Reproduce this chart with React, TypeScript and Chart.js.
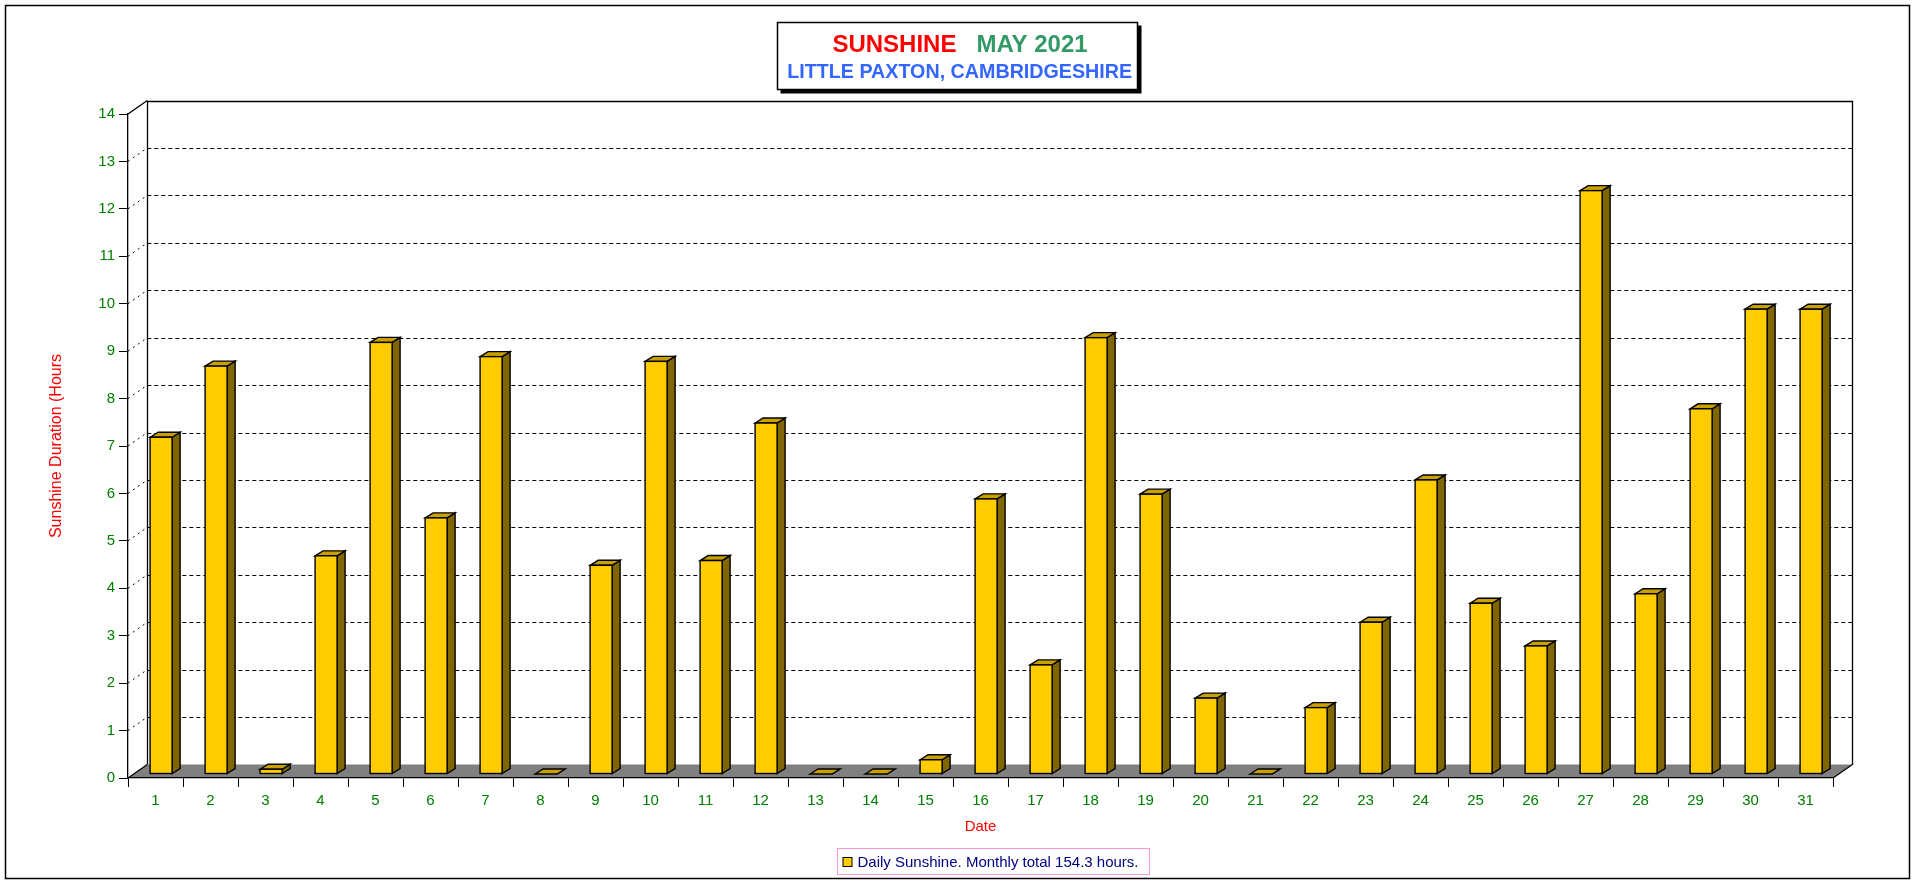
import React, { useEffect, useRef } from 'react';
import { Chart, registerables } from 'chart.js';

Chart.register(...registerables);

// ---------- data ----------
const dayLabels = [
  '1', '2', '3', '4', '5', '6', '7', '8', '9', '10',
  '11', '12', '13', '14', '15', '16', '17', '18', '19', '20',
  '21', '22', '23', '24', '25', '26', '27', '28', '29', '30', '31',
];
const sunshineHours = [
  7.1, 8.6, 0.1, 4.6, 9.1, 5.4, 8.8, 0, 4.4, 8.7,
  4.5, 7.4, 0, 0, 0.3, 5.8, 2.3, 9.2, 5.9, 1.6,
  0, 1.4, 3.2, 6.2, 3.6, 2.7, 12.3, 3.8, 7.7, 9.8, 9.8,
];
const yMin = 0;
const yMax = 14;
const yStep = 1;
const titleLine1a = 'SUNSHINE';
const titleLine1b = 'MAY 2021';
const titleLine2 = 'LITTLE PAXTON, CAMBRIDGESHIRE';
const seriesLabel = 'Daily Sunshine. Monthly total 154.3 hours.';
const xTitle = 'Date';
const yTitle = 'Sunshine Duration (Hours';

const FONT = "'Liberation Sans', Arial, sans-serif";

// 3D geometry (pixel offsets)
const WALL = { dx: 19.3, dy: -13.5 };
const FRONT = { dx: 5.6, dy: -4 };
const DEPTH = { dx: 8, dy: -5 };

const threeDPlugin = {
  id: 'threeD',
  beforeDraw(chart: any) {
    const ctx = chart.ctx as CanvasRenderingContext2D;
    const { left, right, top, bottom } = chart.chartArea;
    const yScale = chart.scales.y;
    ctx.save();
    // page background + outer frame
    ctx.fillStyle = '#ffffff';
    ctx.fillRect(0, 0, chart.width, chart.height);
    ctx.strokeStyle = '#000';
    ctx.lineWidth = 1.5;
    ctx.strokeRect(5.5, 5.5, 1904, 873);

    const wx0 = left + WALL.dx;
    const wx1 = right + WALL.dx;
    const wyTop = top + WALL.dy;
    const wyBot = bottom + WALL.dy;

    // floor
    ctx.fillStyle = '#808080';
    ctx.beginPath();
    ctx.moveTo(left, bottom);
    ctx.lineTo(wx0, wyBot);
    ctx.lineTo(wx1, wyBot);
    ctx.lineTo(right, bottom);
    ctx.closePath();
    ctx.fill();

    // gridlines on the back wall + dotted diagonals
    ctx.lineWidth = 1;
    ctx.strokeStyle = '#000';
    for (const t of yScale.ticks) {
      const v = t.value;
      const yf = yScale.getPixelForValue(v);
      if (v > yMin && v < yMax) {
        ctx.setLineDash([4, 3]);
        ctx.beginPath();
        ctx.moveTo(wx0, Math.round(yf + WALL.dy) + 0.5);
        ctx.lineTo(wx1, Math.round(yf + WALL.dy) + 0.5);
        ctx.stroke();
        ctx.setLineDash([2, 4]);
        ctx.beginPath();
        ctx.moveTo(left, yf);
        ctx.lineTo(wx0, yf + WALL.dy);
        ctx.stroke();
      }
    }
    ctx.setLineDash([]);
    // wall outline
    ctx.lineWidth = 1.3;
    ctx.beginPath();
    ctx.moveTo(Math.round(wx0) + 0.5, wyBot);
    ctx.lineTo(Math.round(wx0) + 0.5, Math.round(wyTop) + 0.5);
    ctx.lineTo(Math.round(wx1) + 0.5, Math.round(wyTop) + 0.5);
    ctx.lineTo(Math.round(wx1) + 0.5, wyBot);
    ctx.lineTo(right, bottom);
    ctx.stroke();
    ctx.beginPath();
    ctx.moveTo(left, top);
    ctx.lineTo(wx0, wyTop);
    ctx.moveTo(left, bottom);
    ctx.lineTo(wx0, wyBot);
    ctx.stroke();

    // title box
    const bx = 777.5, by = 22.5, bw = 360, bh = 67;
    ctx.fillStyle = '#000';
    ctx.fillRect(bx + 3, by + 3, bw + 1, bh + 1);
    ctx.fillStyle = '#fff';
    ctx.fillRect(bx, by, bw, bh);
    ctx.lineWidth = 1.5;
    ctx.strokeRect(bx, by, bw, bh);

    ctx.textBaseline = 'alphabetic';
    ctx.textAlign = 'left';
    ctx.font = `bold 24px ${FONT}`;
    const gap = ctx.measureText('   ').width;
    const wa = ctx.measureText(titleLine1a).width;
    const wb = ctx.measureText(titleLine1b).width;
    const cx = 960;
    let x = cx - (wa + gap + wb) / 2;
    ctx.fillStyle = '#FF0000';
    ctx.fillText(titleLine1a, x, 51.5);
    ctx.fillStyle = '#339966';
    ctx.fillText(titleLine1b, x + wa + gap, 51.5);
    ctx.font = `bold 19.7px ${FONT}`;
    ctx.textAlign = 'center';
    ctx.fillStyle = '#3366FF';
    ctx.fillText(titleLine2, 959.7, 78.3);
    ctx.restore();
  },
  afterDatasetsDraw(chart: any) {
    const ctx = chart.ctx as CanvasRenderingContext2D;
    const meta = chart.getDatasetMeta(0);
    ctx.save();
    ctx.lineWidth = 1.4;
    ctx.strokeStyle = '#000';
    ctx.lineJoin = 'miter';
    for (const el of meta.data as any[]) {
      const w = el.width;
      const cx = el.x + FRONT.dx;
      const yT = el.y + FRONT.dy;
      const yB = el.base + FRONT.dy;
      const xl = cx - w / 2;
      const xr = cx + w / 2;
      // side
      ctx.fillStyle = '#806600';
      ctx.beginPath();
      ctx.moveTo(xr, yT);
      ctx.lineTo(xr + DEPTH.dx, yT + DEPTH.dy);
      ctx.lineTo(xr + DEPTH.dx, yB + DEPTH.dy);
      ctx.lineTo(xr, yB);
      ctx.closePath();
      ctx.fill();
      ctx.stroke();
      // top
      ctx.fillStyle = '#C8A000';
      ctx.beginPath();
      ctx.moveTo(xl, yT);
      ctx.lineTo(xl + DEPTH.dx, yT + DEPTH.dy);
      ctx.lineTo(xr + DEPTH.dx, yT + DEPTH.dy);
      ctx.lineTo(xr, yT);
      ctx.closePath();
      ctx.fill();
      ctx.stroke();
      // front
      if (yB - yT > 0.5) {
        ctx.fillStyle = '#FFCC00';
        ctx.fillRect(xl, yT, w, yB - yT);
        ctx.strokeRect(xl, yT, w, yB - yT);
      }
    }
    ctx.restore();
  },
  afterDraw(chart: any) {
    const ctx = chart.ctx as CanvasRenderingContext2D;
    ctx.save();
    // legend
    ctx.strokeStyle = '#FF99CC';
    ctx.lineWidth = 1;
    ctx.strokeRect(837.5, 848.5, 312, 26);
    ctx.fillStyle = '#FFCC00';
    ctx.fillRect(843, 857.5, 9, 9);
    ctx.strokeStyle = '#000';
    ctx.strokeRect(843, 857.5, 9, 9);
    ctx.fillStyle = '#000080';
    ctx.font = `15px ${FONT}`;
    ctx.textAlign = 'left';
    ctx.textBaseline = 'alphabetic';
    ctx.fillText(chart.data.datasets[0].label, 857.5, 866.5);
    ctx.restore();
  },
};

export default function App() {
  const canvasRef = useRef<HTMLCanvasElement | null>(null);

  useEffect(() => {
    document.body.style.margin = '0';
    const canvas = canvasRef.current;
    if (!canvas) return;
    const chart = new Chart(canvas, {
      type: 'bar',
      data: {
        labels: dayLabels,
        datasets: [
          {
            label: seriesLabel,
            data: sunshineHours,
            backgroundColor: 'rgba(0,0,0,0)',
            borderWidth: 0,
            barThickness: 22,
          },
        ],
      },
      options: {
        responsive: false,
        animation: false,
        devicePixelRatio: 1,
        layout: { padding: { left: 0, right: 83, top: 114, bottom: 0 } },
        plugins: {
          legend: { display: false },
          tooltip: { enabled: false },
          title: { display: false },
        },
        scales: {
          x: {
            type: 'category',
            offset: true,
            grid: {
              offset: true,
              drawOnChartArea: false,
              drawTicks: true,
              tickLength: 9,
              color: '#000',
              lineWidth: 1,
            },
            border: { display: true, color: '#000', width: 1.3 },
            ticks: {
              color: '#008000',
              font: { family: FONT, size: 15 },
              padding: 5,
              maxRotation: 0,
              autoSkip: false,
            },
            title: {
              display: true,
              text: xTitle,
              color: '#FF0000',
              font: { family: FONT, size: 15 },
              padding: { top: 0, bottom: 48 },
            },
            afterFit: (s: any) => {
              s.height = 106;
            },
          },
          y: {
            min: yMin,
            max: yMax,
            grid: {
              drawOnChartArea: false,
              drawTicks: true,
              tickLength: 9,
              color: '#000',
              lineWidth: 1,
            },
            border: { display: true, color: '#000', width: 1.3 },
            ticks: {
              stepSize: yStep,
              color: '#008000',
              font: { family: FONT, size: 15 },
              padding: 4,
            },
            title: {
              display: true,
              text: yTitle,
              color: '#FF0000',
              font: { family: FONT, size: 16 },
              padding: { top: 47, bottom: 0 },
            },
            afterFit: (s: any) => {
              s.width = 128;
            },
          },
        },
      } as any,
      plugins: [threeDPlugin],
    });
    return () => chart.destroy();
  }, []);

  return (
    <div style={{ position: 'fixed', left: 0, top: 0, width: 1916, height: 884, background: '#fff' }}>
      <canvas ref={canvasRef} width={1916} height={884} style={{ display: 'block' }} />
    </div>
  );
}
